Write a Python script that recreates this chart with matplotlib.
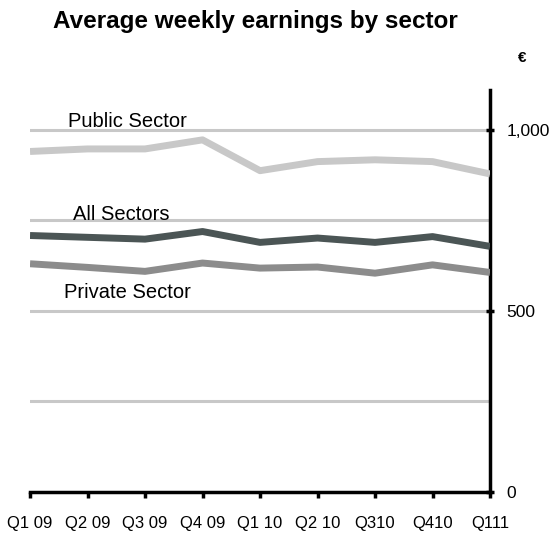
import matplotlib.pyplot as plt
from matplotlib.ticker import FuncFormatter

plt.rcParams['font.family'] = ['Liberation Sans', 'DejaVu Sans']

quarters = ["Q1 09", "Q2 09", "Q3 09", "Q4 09", "Q1 10", "Q2 10", "Q310", "Q410", "Q111"]
public_sector = [940, 947, 947, 972, 887, 912, 917, 912, 878]
all_sectors = [708, 703, 698, 719, 689, 701, 689, 705, 678]
private_sector = [630, 620, 609, 632, 618, 621, 604, 627, 606]
grid_levels = [250, 500, 750, 1000]
y_ticks = [0, 500, 1000]

fig = plt.figure(figsize=(5.58, 5.35), dpi=100)
ax = fig.add_axes([0.0538, 0.0804, 0.8244, 0.7516])

x = list(range(len(quarters)))

for g in grid_levels:
    ax.axhline(g, color="#c8c8c8", lw=2.2, zorder=1)

ax.plot(x, public_sector, color="#c8c8c8", lw=5, solid_capstyle="butt", zorder=3)
ax.plot(x, private_sector, color="#8c8c8c", lw=5, solid_capstyle="butt", zorder=3)
ax.plot(x, all_sectors, color="#4b5555", lw=5, solid_capstyle="butt", zorder=4)

ax.text(1.7, 1022, "Public Sector", ha="center", va="center", fontsize=14.5)
ax.text(1.58, 765, "All Sectors", ha="center", va="center", fontsize=14.5)
ax.text(1.69, 550, "Private Sector", ha="center", va="center", fontsize=14.5)

ax.set_xlim(0, len(quarters) - 1)
ax.set_ylim(0, 1110)

ax.spines["top"].set_visible(False)
ax.spines["left"].set_visible(False)
ax.spines["right"].set_linewidth(2.5)
ax.spines["bottom"].set_linewidth(2.5)

ax.yaxis.tick_right()
ax.set_yticks(y_ticks)
ax.yaxis.set_major_formatter(FuncFormatter(lambda v, p: f"{int(v):,}"))
ax.tick_params(axis="y", direction="inout", length=6, width=2.5, pad=9, labelsize=12.5)
ax.set_xticks(x)
ax.set_xticklabels(quarters)
ax.tick_params(axis="x", direction="out", length=4, width=2.5, pad=13, labelsize=12)

fig.text(0.457, 0.960, "Average weekly earnings by sector", ha="center", va="center",
         fontsize=17.5, fontweight="bold")
fig.text(0.935, 0.892, "€", ha="center", va="center", fontsize=11, fontweight="bold")

fig.savefig("out.png", dpi=100)
